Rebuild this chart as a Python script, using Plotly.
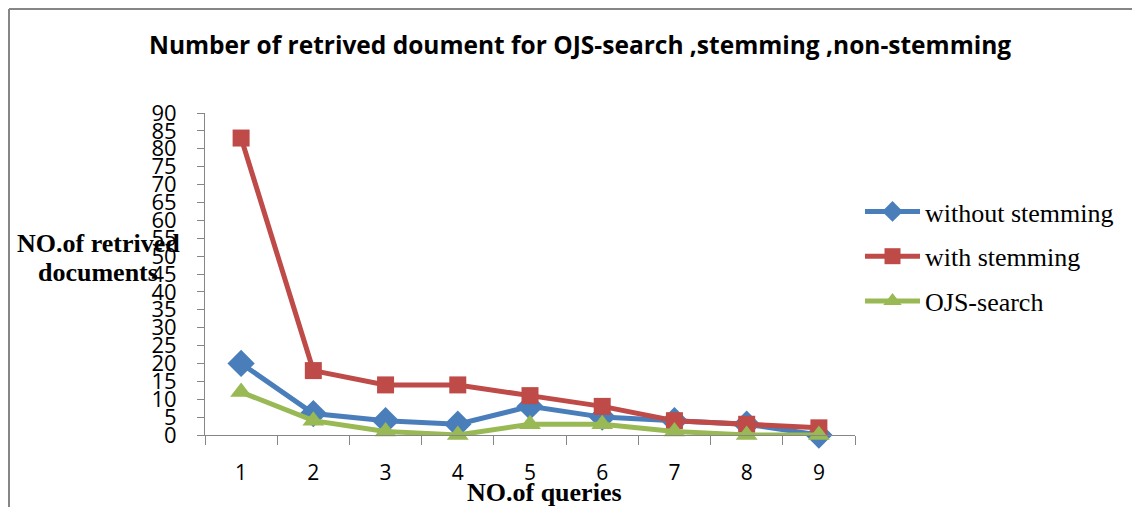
import plotly.graph_objs as go

queries = ['1', '2', '3', '4', '5', '6', '7', '8', '9']
without_stemming = [20, 6, 4, 3, 8, 5, 4, 3, 0]
with_stemming = [83, 18, 14, 14, 11, 8, 4, 3, 2]
ojs_search = [12, 4, 1, 0, 3, 3, 1, 0, 0]

series = [
    ('without stemming', without_stemming, '#4A7EBB', 'diamond', 21),
    ('with stemming', with_stemming, '#BE4B48', 'square', 17),
    ('OJS-search', ojs_search, '#98B954', 'triangle-up', 19),
]

serif = 'Liberation Serif, Times New Roman, serif'
sans = 'Open Sans, Calibri, sans-serif'

# page has an 8px body margin, so work in page pixels and shift
OFF = 8
PL, PR, PT, PB = 205, 855, 113, 435  # plot area in page px
W, H = 1132, 499


def px(x):
    return (x - PL) / (PR - PL)


def py(y):
    return (PB - y) / (PB - PT)


fig = go.Figure()
for i, (name, vals, color, sym, size) in enumerate(series):
    fig.add_trace(go.Scatter(x=queries, y=vals, name=name, mode='lines+markers',
                             line=dict(color=color, width=5),
                             marker=dict(symbol=sym, size=size, color=color),
                             legendgroup=str(i), cliponaxis=False))

fig.update_layout(
    width=W, height=H,
    margin=dict(l=PL - OFF, r=W - (PR - OFF), t=PT - OFF, b=H - (PB - OFF), autoexpand=False),
    plot_bgcolor='white', paper_bgcolor='white',
    showlegend=True,
    legend=dict(x=px(860), y=py(188), xanchor='left', yanchor='top',
                font=dict(family=serif, size=26, color='black'),
                traceorder='grouped', tracegroupgap=8, itemwidth=55),
    xaxis=dict(type='category', range=[-0.5, len(queries) - 0.5], showgrid=False, showline=True,
               linecolor='#868686', linewidth=1,
               ticks='outside', tickson='boundaries', ticklen=9, tickcolor='#868686',
               tickfont=dict(family=sans, size=21, color='black'), ticklabelstandoff=19),
    yaxis=dict(range=[0, 90], dtick=5, tick0=0, showgrid=False, showline=True,
               linecolor='#868686', linewidth=1, ticks='outside', ticklen=7, tickcolor='#868686',
               tickfont=dict(family=sans, size=22, color='black'), ticklabelstandoff=16,
               zeroline=False),
)

# titles
fig.add_annotation(text='<b>Number of retrived doument for OJS-search ,stemming ,non-stemming</b>',
                   xref='paper', yref='paper', x=px(580), y=py(44), xanchor='center', yanchor='middle',
                   showarrow=False, font=dict(family=sans, size=24.5, color='black'))
fig.add_annotation(text='<b>NO.of queries</b>', xref='paper', yref='paper',
                   x=px(544), y=py(492), xanchor='center', yanchor='middle', showarrow=False,
                   font=dict(family=serif, size=26, color='black'))
fig.add_annotation(text='<b>NO.of retrived</b>', xref='paper', yref='paper',
                   x=px(98), y=py(243), xanchor='center', yanchor='middle', showarrow=False,
                   font=dict(family=serif, size=26, color='black'))
fig.add_annotation(text='<b>documents</b>', xref='paper', yref='paper',
                   x=px(98), y=py(272), xanchor='center', yanchor='middle', showarrow=False,
                   font=dict(family=serif, size=26, color='black'))

# outer frame (left and top edges), as close to the page corner as the figure allows
fig.add_shape(type='line', xref='paper', yref='paper', x0=px(9), x1=px(1140),
              y0=py(9), y1=py(9), line=dict(color='#868686', width=2))
fig.add_shape(type='line', xref='paper', yref='paper', x0=px(9), x1=px(9),
              y0=py(9), y1=py(510), line=dict(color='#868686', width=2))

fig.write_html("out.html")
